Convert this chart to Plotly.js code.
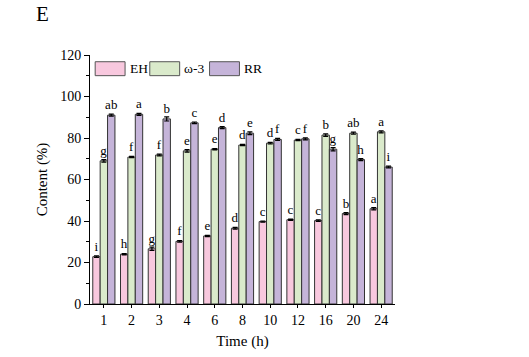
<!DOCTYPE html>
<html>
<head>
<meta charset="utf-8">
<script src="https://cdn.plot.ly/plotly-3.0.1.min.js"></script>
<style>html,body{margin:0;padding:0;background:#fff;}#chart{width:529px;height:357px;}</style>
</head>
<body>
<div id="chart"></div>
<script>
const categories = ['1','2','3','4','6','8','10','12','16','20','24'];
const ehValues  = [22.8, 24.0, 26.6, 30.2, 32.8, 36.5, 39.7, 40.6, 40.2, 43.6, 45.9];
const ehErrors  = [0.4, 0.3, 0.8, 0.4, 0.3, 0.4, 0.3, 0.3, 0.4, 0.5, 0.5];
const ehLetters = ['i','h','g','f','e','d','c','c','c','b','a'];
const o3Values  = [69.0, 70.8, 71.8, 73.8, 74.6, 76.6, 77.5, 79.0, 81.4, 82.3, 83.0];
const o3Errors  = [0.6, 0.3, 0.4, 0.6, 0.3, 0.3, 0.4, 0.3, 0.6, 0.5, 0.5];
const o3Letters = ['g','f','f','e','e','d','d','c','b','ab','a'];
const rrValues  = [91.0, 91.4, 89.2, 87.3, 85.0, 82.3, 79.3, 79.6, 74.6, 69.6, 66.0];
const rrErrors  = [0.5, 0.5, 1.0, 0.4, 0.5, 0.7, 0.5, 0.5, 0.8, 0.5, 0.4];
const rrLetters = ['ab','a','b','c','d','e','f','f','g','h','i'];
const seriesNames = ['EH','ω-3','RR'];
const colors = ['#F8C8DE','#DAEACB','#C5B4D9'];

const font = 'Liberation Serif, Times New Roman, serif';
function bar(name, y, err, letters, color) {
  return {
    type: 'bar', name: name, x: categories, y: y,
    marker: {color: color, line: {color: '#333333', width: 1}},
    error_y: {type: 'data', array: err, visible: true, color: '#000', thickness: 1.2, width: 2.5},
    text: letters, textposition: 'outside', constraintext: 'none', cliponaxis: false,
    textfont: {family: font, size: 13, color: '#000'},
    outsidetextfont: {family: font, size: 13, color: '#000'},
    showlegend: false, hoverinfo: 'skip'
  };
}
const data = [
  bar(seriesNames[0], ehValues, ehErrors, ehLetters, colors[0]),
  bar(seriesNames[1], o3Values, o3Errors, o3Letters, colors[1]),
  bar(seriesNames[2], rrValues, rrErrors, rrLetters, colors[2])
];

// manual legend (paper coordinates)
const shapes = [];
const annotations = [];
const legX = [0.017, 0.196, 0.392];
const boxW = 0.098;
for (let i = 0; i < 3; i++) {
  shapes.push({type: 'rect', xref: 'paper', yref: 'paper', x0: legX[i], x1: legX[i] + boxW,
    y0: 0.917, y1: 0.973, fillcolor: colors[i], line: {color: '#555', width: 1}});
  annotations.push({xref: 'paper', yref: 'paper', x: legX[i] + boxW + 0.008, y: 0.945,
    xanchor: 'left', yanchor: 'middle', text: seriesNames[i], showarrow: false,
    font: {family: font, size: 13.5, color: '#000'}});
}
annotations.push({xref: 'paper', yref: 'paper', x: -0.185, y: 1.165, xanchor: 'left', yanchor: 'middle',
  text: 'E', showarrow: false, font: {family: font, size: 21, color: '#000'}});

const layout = {
  width: 529, height: 357,
  margin: {l: 89.5, r: 133.5, t: 55, b: 53},
  paper_bgcolor: '#fff', plot_bgcolor: '#fff',
  barmode: 'group', bargap: 0.2, bargroupgap: 0,
  font: {family: font, color: '#000'},
  xaxis: {
    type: 'category', showline: true, linecolor: '#000', linewidth: 1,
    ticks: 'outside', ticklen: 3, tickcolor: '#000', showgrid: false, zeroline: false,
    tickfont: {family: font, size: 14},
    title: {text: 'Time (h)', font: {family: font, size: 15}, standoff: 8}
  },
  yaxis: {
    range: [0, 120], tickvals: [0,20,40,60,80,100,120], showline: true, linecolor: '#000', linewidth: 1,
    ticks: 'outside', ticklen: 5, tickcolor: '#000', showgrid: false, zeroline: false,
    minor: {tickvals: [10,30,50,70,90,110], ticks: 'outside', ticklen: 3, tickcolor: '#000'},
    tickfont: {family: font, size: 14},
    title: {text: 'Content (%)', font: {family: font, size: 15}, standoff: 8}
  },
  shapes: shapes, annotations: annotations
};
Plotly.newPlot('chart', data, layout, {displayModeBar: false, staticPlot: true});
</script>
</body>
</html>
